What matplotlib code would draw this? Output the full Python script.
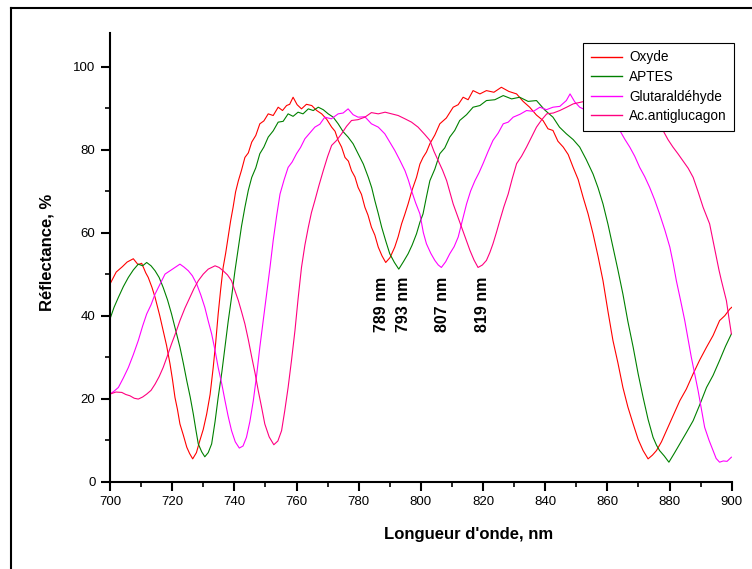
import matplotlib
matplotlib.use("Agg")
import matplotlib.pyplot as plt
from matplotlib.lines import Line2D
from matplotlib.ticker import MultipleLocator

# ---------------- data ----------------
ox_x = [700, 702, 704, 705.5, 707.5, 709, 710.2, 711.5, 712.3, 713.5, 714.5, 716, 717.1, 718.2, 719.3, 720.1,
        720.9, 721.7, 722.5, 723.6, 724.7, 725.6, 726.6, 727.8, 728.9, 730, 731.1, 732.2, 733.2, 734, 734.8,
        735.6, 736.4, 737.2, 738, 738.8, 739.6, 740.4, 741.3, 742.3, 743.4, 744.5, 745.6, 746.9, 748.2, 749.5,
        750.9, 752.5, 754.1, 755.5, 756.8, 757.8, 758.9, 760.2, 761.6, 763.2, 764.9, 766.5, 768.1, 769.7,
        771.3, 772.4, 773.4, 774.5, 775.6, 776.7, 777.7, 778.8, 779.8, 780.9, 782, 783, 784.1, 785.2, 786.3,
        787.5, 788.7, 790.1, 791.6, 792.7, 793.8, 794.8, 795.9, 797.2, 798.6, 799.7, 800.7, 801.8, 802.9,
        804.5, 806.1, 808.2, 810.4, 812, 813.6, 815.2, 816.8, 819, 821.1, 823.5, 825.9, 828.3, 830.8, 832.9,
        835, 837.2, 839.3, 840.9, 842.5, 844.1, 845.8, 847.4, 849, 850.6, 852.2, 853.8, 855.4, 857, 858.6,
        860.2, 861.8, 863.4, 865, 866.6, 868.3, 869.9, 871.5, 873.1, 874.5, 875.8, 877.4, 879, 881.1, 883.3,
        885.4, 887.6, 889.7, 891.9, 894, 896.1, 897.8, 899.4, 900]
ox_y = [47.6, 50.5, 51.8, 52.9, 53.7, 52.3, 52.6, 50.3, 49.2, 46.8, 44.4, 40.0, 36.4, 32.8, 28.4, 24.6,
        20.3, 17.4, 13.9, 11.2, 8.3, 6.8, 5.5, 7.0, 9.9, 12.6, 16.3, 21.0, 27.5, 33.5, 40.4,
        46.3, 51.6, 55.0, 58.9, 62.8, 66.1, 69.8, 72.5, 75.0, 78.1, 79.2, 81.8, 83.4, 86.2, 86.9,
        88.6, 88.2, 90.2, 89.4, 90.6, 90.9, 92.6, 90.8, 89.8, 90.9, 90.6, 89.4, 88.6, 87.3,
        85.4, 84.4, 82.2, 80.6, 78.1, 77.2, 74.9, 73.4, 70.9, 69.2, 66.1, 64.2, 61.3, 59.4, 56.5,
        54.4, 52.8, 54.0, 56.5, 59.0, 62.1, 64.3, 66.9, 70.3, 73.3, 76.5, 78.1, 79.4, 81.4,
        83.5, 86.2, 87.6, 90.2, 90.8, 92.6, 92.0, 94.2, 93.4, 94.2, 93.8, 95.0, 94.0, 93.4, 91.6,
        90.2, 88.3, 87.0, 85.0, 84.6, 82.0, 80.6, 78.8, 75.7, 72.8, 68.5, 64.5, 59.7, 54.3, 48.4,
        41.0, 34.0, 28.6, 22.7, 18.0, 13.9, 10.2, 7.5, 5.5, 6.4, 7.5, 9.6, 12.3, 15.8, 19.5,
        22.3, 26.0, 29.3, 32.4, 35.2, 38.8, 40.0, 41.6, 42.0]

ap_x = [700, 701.3, 702.7, 704.3, 705.9, 707.5, 709.1, 710.5, 711.8, 713.2, 714.5, 715.8, 717.1, 718.5,
        719.8, 721.2, 722.5, 723.6, 724.7, 725.8, 726.8, 727.6, 728.4, 729.5, 730.5, 731.6, 732.7, 733.8,
        734.8, 736, 737, 738, 739.1, 740.2, 741.3, 742.3, 743.4, 744.5, 745.6, 746.9, 748.2, 749.5, 750.9,
        752.5, 754.1, 755.7, 757.3, 758.9, 760.5, 762.1, 763.8, 765.4, 767, 768.6, 770.2, 771.8, 773.4,
        775, 776.6, 778.2, 779.8, 781.5, 783.1, 784.2, 785.2, 786.3, 787.4, 788.7, 790, 791.5, 792.9,
        794.4, 795.9, 797.2, 798.6, 799.7, 800.7, 801.8, 802.9, 804.5, 806.1, 807.7, 809.3, 810.9, 812.5,
        814.7, 816.8, 819, 821.1, 823.8, 826.5, 829.2, 831.8, 834.5, 837.2, 839.9, 842.5, 844.6, 846.8,
        849, 851.1, 853.2, 855.4, 857, 858.6, 860.2, 861.8, 863.4, 865, 866.6, 868.3, 869.9, 871.5,
        873.1, 874.7, 875.8, 876.8, 878.3, 879.8, 881.5, 883.3, 885.4, 887.6, 889.7, 891.9, 894, 896.1,
        898, 899.9]
ap_y = [39.2, 42.0, 44.4, 47.0, 49.2, 51.0, 52.4, 52.0, 52.8, 52.0, 50.8, 49.2, 46.8, 43.8,
        40.4, 36.2, 32.4, 28.5, 24.3, 20.4, 16.3, 12.6, 9.1, 7.2, 6.0, 7.0, 9.1, 14.5,
        20.3, 26.5, 32.4, 38.5, 44.4, 50.8, 56.5, 61.5, 66.1, 70.2, 73.3, 75.6, 79.0, 80.6, 83.0,
        84.5, 86.6, 86.8, 88.6, 88.0, 89.0, 88.6, 89.8, 89.4, 90.2, 89.6, 88.6, 87.8, 86.2,
        84.3, 83.0, 81.4, 79.0, 76.5, 73.3, 70.8, 67.7, 64.6, 61.3, 58.0, 54.9, 52.8, 51.2,
        53.0, 54.9, 57.0, 59.7, 62.5, 64.5, 68.6, 72.5, 75.3, 79.0, 80.4, 83.0, 84.6, 87.0,
        88.4, 90.2, 90.6, 91.8, 92.0, 93.0, 92.2, 92.6, 91.6, 91.8, 89.5, 87.8, 85.4, 83.8,
        82.4, 80.6, 77.6, 74.1, 70.8, 66.9, 62.0, 56.5, 51.0, 45.2, 38.6, 32.4, 26.0, 20.3,
        15.0, 10.7, 8.8, 7.5, 6.2, 4.7, 6.8, 9.1, 11.8, 14.7, 18.5, 22.7, 25.6, 29.2,
        32.6, 35.6]

gl_x = [700, 701.3, 702.7, 704.3, 705.9, 707.5, 709.1, 710.5, 711.8, 713.2, 714.5, 716.1, 717.7, 719.3,
        720.9, 722.5, 723.8, 725.2, 726.5, 727.9, 729.2, 730.5, 731.6, 732.7, 733.8, 734.8, 736, 737, 738,
        739.1, 740.3, 741.6, 742.8, 743.9, 745, 746.1, 747.2, 748.2, 749.3, 750.4, 751.5, 752.5, 753.6,
        754.7, 756, 757.3, 758.6, 760, 761.3, 762.7, 764.3, 765.9, 767.5, 769.1, 771.2, 773.4, 775, 776.6,
        778.2, 779.8, 782, 784.1, 786.3, 788.4, 790, 791.6, 793.2, 794.9, 796, 797, 798.3, 799.7, 800.8,
        801.8, 803.2, 804.5, 805.6, 806.6, 808, 809.3, 810.7, 812, 813.3, 814.7, 816, 817.4, 818.7, 820,
        821.6, 823.2, 824.9, 826.5, 828.1, 829.7, 831.9, 834, 836.2, 838.3, 840.4, 842.5, 844.7, 846.8,
        848, 849.5, 851.1, 853.3, 855.4, 857.5, 859.7, 861.8, 864, 865.6, 867.2, 868.8, 870.4, 872,
        873.6, 875.2, 876.8, 878.5, 880.1, 881.2, 882.2, 883.6, 884.9, 886, 887, 888.1, 889.2, 890.3,
        891.3, 892.7, 894, 895, 896.1, 897.3, 898.5, 899.9]
gl_y = [21.1, 21.8, 22.7, 25.0, 27.5, 30.6, 34.0, 37.5, 40.4, 42.6, 45.2, 47.6, 50.0, 50.8,
        51.6, 52.4, 51.7, 50.8, 49.6, 47.6, 45.0, 42.0, 38.7, 35.6, 31.6, 27.5, 23.4, 19.5, 15.8,
        12.3, 9.6, 8.1, 8.6, 10.7, 14.5, 19.5, 25.8, 32.4, 38.8, 45.2, 51.8, 58.1, 64.0,
        69.3, 72.7, 75.7, 77.0, 79.0, 80.5, 82.6, 84.0, 85.4, 86.1, 87.8, 87.4, 88.6, 88.8, 89.8,
        88.4, 87.8, 87.9, 86.2, 85.4, 83.8, 81.8, 79.8, 77.5, 74.9, 72.6, 70.1, 67.2, 64.5, 60.0,
        57.3, 55.0, 53.3, 52.2, 51.6, 53.0, 54.9, 56.6, 58.9, 62.8, 66.9, 70.0, 72.5, 74.4, 76.6,
        79.5, 82.2, 84.0, 86.2, 86.6, 87.8, 88.5, 89.4, 89.2, 90.2, 89.6, 90.2, 90.4, 91.8,
        93.4, 91.5, 90.2, 89.4, 88.6, 87.6, 86.2, 85.8, 84.6, 82.5, 80.6, 78.4, 75.7, 73.5,
        70.9, 67.9, 64.5, 60.6, 56.5, 52.5, 48.4, 43.5, 38.8, 34.2, 30.0, 26.0, 21.9, 17.3,
        13.1, 10.0, 7.5, 5.6, 4.7, 5.0, 4.9, 5.9]

ac_x = [700, 701.9, 703.8, 705.1, 706.4, 707.8, 709.1, 710.5, 711.8, 713.2, 714.5, 715.8, 717.1, 718.5,
        719.8, 721.2, 722.5, 724.1, 725.7, 727, 728.4, 730, 731.6, 732.7, 733.8, 735.1, 736.4, 737.8,
        739.1, 740.2, 741.3, 742.3, 743.4, 744.5, 745.6, 746.7, 747.7, 748.8, 749.8, 751.2, 752.7, 754,
        755.2, 756.2, 757.3, 758.4, 759.5, 760.5, 761.6, 762.7, 763.8, 764.8, 765.9, 767.2, 768.6, 770,
        771.3, 772.9, 774.5, 776.1, 777.7, 779.8, 782, 784.1, 786.3, 788.5, 790.6, 792.7, 794.9, 797,
        799.1, 801.3, 802.9, 804.2, 805.6, 807, 808.3, 809.3, 810.4, 811.8, 813.1, 814.5, 815.8, 817.1,
        818.4, 819.8, 821.1, 822.2, 823.2, 824.3, 825.4, 826.7, 828.1, 829.4, 830.8, 832.4, 834, 835.6,
        837.2, 838.9, 840.5, 842.6, 844.7, 846.9, 849, 852, 855, 858, 861, 864, 867, 870, 872.5,
        874.7, 876.3, 877.9, 879.5, 881.1, 882.7, 884.3, 886, 887.6, 889.2, 890.8, 891.9, 892.9, 894,
        895.1, 895.9, 896.7, 897.5, 898.3, 899.1, 899.9]
ac_y = [21.1, 21.6, 21.5, 21.0, 20.7, 20.1, 19.9, 20.4, 21.1, 22.0, 23.5, 25.3, 27.5, 30.4,
        33.2, 36.0, 38.8, 41.8, 44.4, 46.5, 48.4, 50.0, 51.2, 51.6, 52.0, 51.6, 50.8, 49.8,
        48.4, 46.0, 43.6, 41.0, 38.0, 34.2, 30.0, 26.0, 21.9, 17.8, 13.9, 10.8, 8.9, 9.8,
        12.3, 17.0, 22.7, 29.3, 36.4, 44.0, 51.6, 57.0, 61.3, 64.8, 67.7, 71.3, 74.9, 78.3,
        81.0, 82.2, 83.8, 85.6, 87.0, 87.2, 87.8, 88.9, 88.6, 89.0, 88.6, 88.2, 87.4, 86.6,
        85.4, 83.6, 82.2, 79.6, 77.3, 75.0, 72.5, 69.8, 66.9, 64.0, 61.3, 58.4, 55.7, 53.4,
        51.6, 52.2, 53.3, 55.2, 57.3, 60.0, 62.9, 66.2, 69.3, 73.0, 76.6, 78.4, 80.6, 83.0,
        85.4, 87.2, 88.6, 88.8, 89.4, 90.2, 91.0, 91.5, 91.8, 92.2, 91.6, 91.0, 90.4, 89.6, 88.6,
        87.0, 85.8, 84.6, 82.4, 80.6, 79.0, 77.3, 75.5, 73.3, 69.8, 66.1, 64.0, 62.1, 58.0,
        54.0, 51.0, 48.4, 46.0, 43.6, 39.5, 35.6]

series_names = ["Oxyde", "APTES", "Glutaraldéhyde", "Ac.antiglucagon"]
series_colors = ["#ff0000", "#008000", "#ff00ff", "#ff0080"]

peak_labels = ["789 nm", "793 nm", "807 nm", "819 nm"]
peak_x = [787.3, 794.4, 806.9, 819.8]
peak_y = [42.7, 42.7, 42.7, 42.7]

# ---------------- figure ----------------
fig = plt.figure(figsize=(7.52, 5.69), dpi=100)
ax = fig.add_axes([110 / 752, (569 - 481.7) / 569, 621.7 / 752, 448.4 / 569])

for xs, ys, name, col in zip([ox_x, ap_x, gl_x, ac_x], [ox_y, ap_y, gl_y, ac_y],
                             series_names, series_colors):
    ax.plot(xs, ys, color=col, lw=0.8, label=name)

ax.set_xlim(700, 900)
ax.set_ylim(0, 108)
ax.xaxis.set_major_locator(MultipleLocator(20))
ax.xaxis.set_minor_locator(MultipleLocator(10))
ax.yaxis.set_major_locator(MultipleLocator(20))
ax.yaxis.set_minor_locator(MultipleLocator(10))

for s in ["top", "right"]:
    ax.spines[s].set_visible(False)
for s in ["left", "bottom"]:
    ax.spines[s].set_linewidth(1.5)

ax.tick_params(which="major", direction="out", length=6.5, width=1.5, pad=4,
               labelsize=9.5)
ax.tick_params(which="minor", direction="out", length=3.5, width=1.2)
for lab in ax.get_xticklabels() + ax.get_yticklabels():
    lab.set_family("Liberation Sans")

ax.set_xlabel("Longueur d'onde, nm", fontsize=12, fontweight="bold",
              family="Liberation Sans")
ax.xaxis.set_label_coords((469 - 110) / 621.7, -(527 - 481.7) / 448.4)
ax.set_ylabel("Réflectance, %", fontsize=12, fontweight="bold",
              family="Liberation Sans")
ax.yaxis.set_label_coords((55 - 110) / 621.7, (481.7 - 252) / 448.4)

for t, xx, yy in zip(peak_labels, peak_x, peak_y):
    ax.text(xx, yy, t, rotation=90, ha="center", va="center", fontsize=11.5,
            fontweight="bold", family="Liberation Sans")

leg = ax.legend(loc="upper right", bbox_to_anchor=((734 - 110) / 621.7, (481.7 - 43) / 448.4),
                frameon=True, fancybox=False, framealpha=1, edgecolor="black",
                prop={"family": "Liberation Sans", "size": 9.8},
                handlelength=2.3, handletextpad=0.5, labelspacing=0.41,
                borderpad=0.55, borderaxespad=0)
leg.get_frame().set_linewidth(0.8)
for h in leg.get_lines():
    h.set_linewidth(1.0)

# outer frame (top and left)
fig.add_artist(Line2D([11 / 752, 1.0], [1 - 8 / 569, 1 - 8 / 569], color="black", lw=1.5,
                      transform=fig.transFigure))
fig.add_artist(Line2D([11 / 752, 11 / 752], [0.0, 1 - 8 / 569], color="black", lw=1.5,
                      transform=fig.transFigure))

fig.savefig("out.png", dpi=100)
